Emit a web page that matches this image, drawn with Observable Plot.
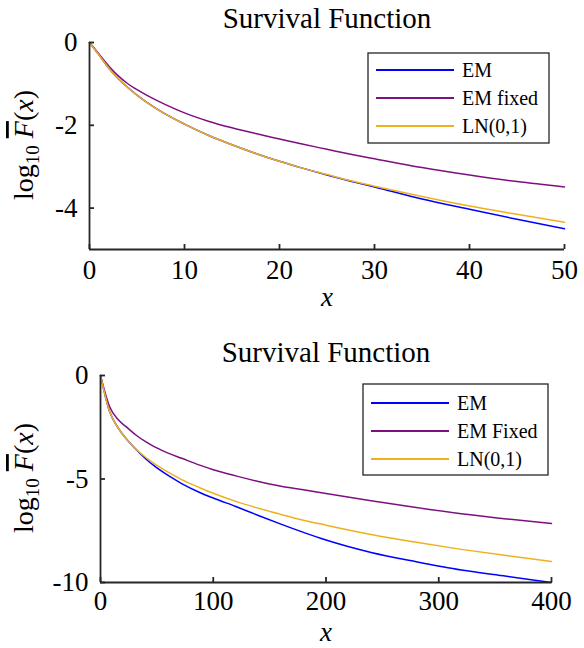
<!DOCTYPE html>
<html><head><meta charset="utf-8">
<script src="https://cdn.jsdelivr.net/npm/d3@7"></script>
<script src="https://cdn.jsdelivr.net/npm/@observablehq/plot@0.6"></script>
<style>
body{margin:0;background:#fff;}
#chart svg{display:block;}
#chart svg, #chart svg text, #chart svg tspan { font-family: "Liberation Serif", "Times New Roman", serif !important; }
</style></head><body><div id="chart"></div>
<script>
// ---------- DATA ----------
const seriesNames = ["EM", "EM fixed", "LN(0,1)"];
const seriesNames2 = ["EM", "EM Fixed", "LN(0,1)"];
const titleText = "Survival Function";

// Top panel (x in 0..50)
const topX       = [0, 1, 2, 3, 4, 5, 6, 8, 10, 12.5, 15, 17.5, 20, 22.5, 25, 27.5, 30, 35, 40, 45, 50];
const topEM      = [0, -0.30, -0.61, -0.87, -1.08, -1.27, -1.44, -1.73, -1.97, -2.24, -2.47, -2.68, -2.87, -3.04, -3.20, -3.35, -3.49, -3.78, -4.03, -4.27, -4.50];
const topEMFixed = [0, -0.28, -0.56, -0.80, -0.99, -1.14, -1.27, -1.50, -1.70, -1.90, -2.06, -2.20, -2.33, -2.46, -2.58, -2.70, -2.81, -3.02, -3.20, -3.36, -3.49];
const topLN      = [0, -0.30, -0.61, -0.87, -1.08, -1.27, -1.44, -1.73, -1.97, -2.24, -2.47, -2.68, -2.87, -3.04, -3.19, -3.34, -3.47, -3.72, -3.95, -4.15, -4.34];
const topXTicks = [0, 10, 20, 30, 40, 50];
const topYTicks = [0, -2, -4];

// Bottom panel (x in 0..400)
const botX       = [0, 8, 16, 24, 32, 40, 48, 60, 72, 88, 100, 120, 140, 160, 180, 200, 240, 280, 320, 360, 400];
const botEM      = [0, -1.73, -2.56, -3.13, -3.60, -4.02, -4.38, -4.83, -5.22, -5.65, -5.92, -6.33, -6.76, -7.18, -7.58, -7.95, -8.55, -9.00, -9.40, -9.70, -10.00];
const botEMFixed = [0, -1.50, -2.15, -2.53, -2.90, -3.20, -3.45, -3.75, -4.00, -4.33, -4.55, -4.85, -5.12, -5.35, -5.52, -5.70, -6.05, -6.38, -6.68, -6.93, -7.15];
const botLN      = [0, -1.73, -2.56, -3.13, -3.58, -3.95, -4.27, -4.67, -5.03, -5.42, -5.69, -6.08, -6.41, -6.71, -6.99, -7.23, -7.68, -8.06, -8.40, -8.70, -8.98];
const botXTicks = [0, 100, 200, 300, 400];
const botYTicks = [0, -5, -10];

const colors = ["#0000ff", "#7e0f80", "#edb120"];

// ---------- BUILD ----------
const FONT = "Liberation Serif";
const AX = "#262626";

function table(xs, ys, names) {
  const rows = [];
  ys.forEach((arr, k) => arr.forEach((v, i) => rows.push({x: xs[i], y: v, s: names[k]})));
  return rows;
}

function panel(cfg) {
  const data = table(cfg.x, cfg.series, cfg.names);
  const svg = Plot.plot({
    width: 584, height: 324,
    marginLeft: cfg.mL, marginRight: cfg.mR, marginTop: cfg.mT, marginBottom: cfg.mB,
    style: {fontFamily: FONT, fontSize: "27px", color: "#000", background: "#fff", overflow: "visible"},
    x: {domain: cfg.xDomain},
    y: {domain: cfg.yDomain},
    color: {domain: cfg.names, range: colors},
    marks: [
      Plot.line(data, {x: "x", y: "y", z: "s", stroke: "s", strokeWidth: 1.5, curve: "monotone-x"}),
      Plot.ruleX([cfg.xDomain[0]], {stroke: AX, strokeWidth: 1.8}),
      Plot.ruleY([cfg.yDomain[0]], {stroke: AX, strokeWidth: 1.8}),
      Plot.axisX({ticks: cfg.xTicks, tickSize: -5, tickPadding: cfg.xPad, tickFormat: d => String(d), label: null, stroke: AX, strokeWidth: 1.8, fontSize: 27, fill: "#000"}),
      Plot.axisY({ticks: cfg.yTicks, tickSize: -5, tickPadding: 17, tickFormat: d => String(d), label: null, stroke: AX, strokeWidth: 1.8, fontSize: 27, fill: "#000"}),
      Plot.text([titleText], {text: d => d, frameAnchor: "top", lineAnchor: "middle", dy: cfg.titleDy, fontSize: 29, fill: "#000"}),
      Plot.text(["x"], {text: d => d, frameAnchor: "bottom", lineAnchor: "middle", dy: cfg.xlabDy, fontSize: 27, fontStyle: "italic", fill: "#000"})
    ]
  });
  const s = d3.select(svg);
  // y label
  const t = s.append("text")
    .attr("transform", `translate(${cfg.ylab[0]},${cfg.ylab[1]}) rotate(-90)`)
    .attr("text-anchor", "middle")
    .attr("font-family", FONT).attr("font-size", 28).attr("fill", "#000");
  t.append("tspan").text("log");
  t.append("tspan").attr("font-size", 19).attr("dy", 6).text("10");
  t.append("tspan").attr("dy", -6).text(" ");
  t.append("tspan").attr("font-style", "italic").attr("text-decoration", "overline").text("F");
  t.append("tspan").text("(");
  t.append("tspan").attr("font-style", "italic").text("x");
  t.append("tspan").text(")");
  // legend
  const L = cfg.legend;
  const g = s.append("g");
  g.append("rect").attr("x", L.x).attr("y", L.y).attr("width", L.w).attr("height", L.h)
    .attr("fill", "#fff").attr("stroke", AX).attr("stroke-width", 1.3);
  cfg.names.forEach((n, i) => {
    const yy = L.y + L.top + i * L.step;
    g.append("line").attr("x1", L.x + 8).attr("x2", L.x + 86).attr("y1", yy).attr("y2", yy)
      .attr("stroke", colors[i]).attr("stroke-width", 2);
    g.append("text").attr("x", L.x + 94).attr("y", yy).attr("dy", "0.35em")
      .attr("text-anchor", "start")
      .attr("font-family", FONT).attr("font-size", 20).attr("fill", "#000").text(n);
  });
  return svg;
}

const chart = document.getElementById("chart");
chart.appendChild(panel({
  x: topX, series: [topEM, topEMFixed, topLN], names: seriesNames,
  mL: 89, mR: 20, mT: 42, mB: 75,
  xDomain: [0, 50], yDomain: [-5, 0], xTicks: topXTicks, yTicks: topYTicks,
  xPad: 15, titleDy: -24, xlabDy: 48,
  ylab: [33, 145],
  legend: {x: 368, y: 53, w: 181, h: 90, top: 17, step: 28}
}));
chart.appendChild(panel({
  x: botX, series: [botEM, botEMFixed, botLN], names: seriesNames2,
  mL: 100, mR: 33, mT: 51, mB: 66,
  xDomain: [0, 400], yDomain: [-10, 0], xTicks: botXTicks, yTicks: botYTicks,
  xPad: 13, titleDy: -23, xlabDy: 50,
  ylab: [33, 154],
  legend: {x: 363, y: 60, w: 185, h: 91, top: 19, step: 28}
}));
</script></body></html>
